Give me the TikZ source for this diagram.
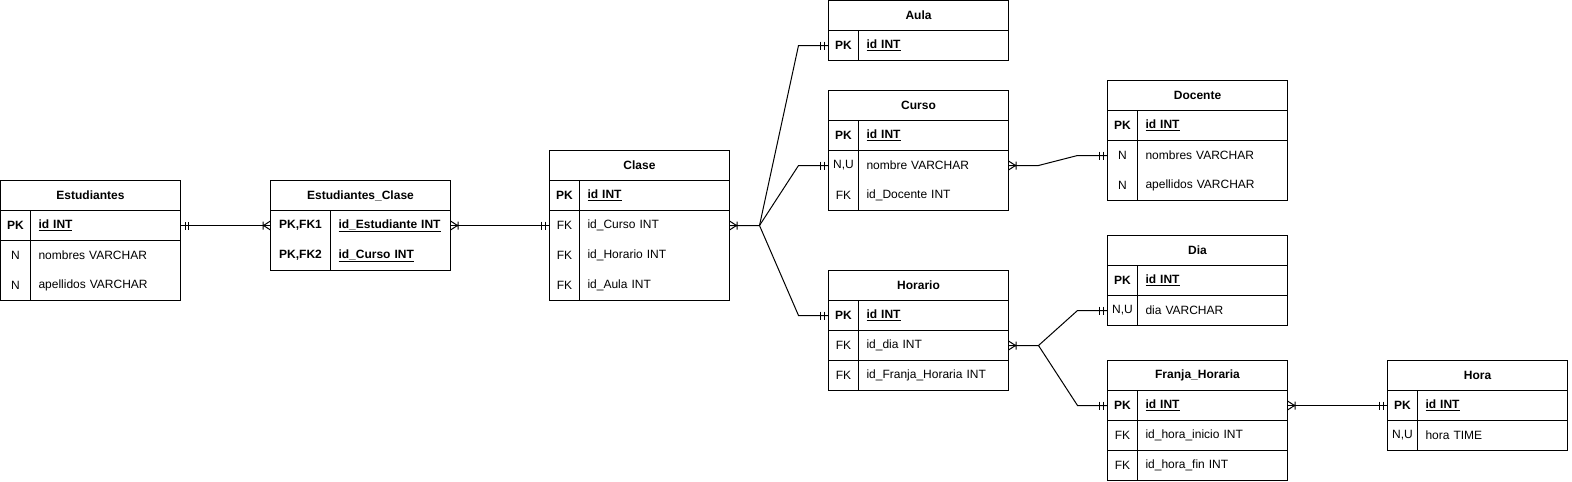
\documentclass[tikz,border=0pt]{standalone}
\usepackage{fontspec}
\setmainfont{Liberation Sans}
\usetikzlibrary{calc}

\tikzset{
    mone/.pic={\draw (-4.5,-4) -- (-4.5,4) (-8,-4) -- (-8,4);},
    many/.pic={\draw (0,-4.5) -- (-7,0) -- (0,4.5) (-7.5,-4) -- (-7.5,4);}
}

\begin{document}
\begin{tikzpicture}[x=1pt, y=-1pt, line width=1pt, font=\fontsize{12}{14}\selectfont,
        hdr/.style={draw, minimum width=180pt, minimum height=30pt, inner sep=0pt, outer sep=0pt, anchor=north west, font=\fontsize{12}{14}\selectfont\bfseries},
        key/.style={minimum width=30pt, minimum height=30pt, inner sep=0pt, outer sep=0pt, anchor=north west},
        fld/.style={minimum height=30pt, text width=134pt, inner xsep=8pt, inner ysep=0pt, outer sep=0pt, anchor=west, align=left}]
    % the frame
    \useasboundingbox (-0.5,-0.5) rectangle (1571.5,481.5);

    % Estudiantes
    \node[hdr] (est) at (0,180) {Estudiantes};
    \foreach \k/\f [count=\i] in {\textbf{PK}/\textbf{\underline{id INT}}, N/nombres VARCHAR, N/apellidos VARCHAR} {
        \node[key] (est-k\i) at ($(est.south west)+(0,{(\i-1)*30})$) {\k};
        \node[fld] (est-f\i) at (est-k\i.east) {\f};
    };
    \draw (est.south west) rectangle (est-f3.south east);
    \draw (est-k1.south west) -- (est-f1.south east);
    \draw (est-k1.north east) -- (est-k3.south east);

    % Estudiantes_Clase
    \node[hdr] (ec) at (270,180) {Estudiantes\_Clase};
    \foreach \k/\f [count=\i] in {{PK,FK1}/{id\_Estudiante INT}, {PK,FK2}/{id\_Curso INT}} {
        \node[key, minimum width=60pt, font=\fontsize{12}{14}\selectfont\bfseries] (ec-k\i) at ($(ec.south west)+(0,{(\i-1)*30})$) {\k};
        \node[fld, text width=104pt, font=\fontsize{12}{14}\selectfont\bfseries] (ec-f\i) at (ec-k\i.east) {\underline{\f}};
    };
    \draw (ec.south west) rectangle (ec-f2.south east);
    \draw (ec-k1.north east) -- (ec-k2.south east);

    % Clase
    \node[hdr] (cls) at (549,150) {Clase};
    \foreach \k/\f [count=\i] in {\textbf{PK}/\textbf{\underline{id INT}}, FK/id\_Curso INT, FK/id\_Horario INT, FK/id\_Aula INT} {
        \node[key] (cls-k\i) at ($(cls.south west)+(0,{(\i-1)*30})$) {\k};
        \node[fld] (cls-f\i) at (cls-k\i.east) {\f};
    };
    \draw (cls.south west) rectangle (cls-f4.south east);
    \draw (cls-k1.south west) -- (cls-f1.south east);
    \draw (cls-k1.north east) -- (cls-k4.south east);

    % Aula
    \node[hdr] (aula) at (828,0) {Aula};
    \node[key] (aula-k1) at (aula.south west) {\textbf{PK}};
    \node[fld] (aula-f1) at (aula-k1.east) {\textbf{\underline{id INT}}};
    \draw (aula.south west) rectangle (aula-f1.south east);
    \draw (aula-k1.north east) -- (aula-k1.south east);

    % Curso
    \node[hdr] (cur) at (828,90) {Curso};
    \foreach \k/\f [count=\i] in {\textbf{PK}/\textbf{\underline{id INT}}, {N,U}/nombre VARCHAR, FK/id\_Docente INT} {
        \node[key] (cur-k\i) at ($(cur.south west)+(0,{(\i-1)*30})$) {\k};
        \node[fld] (cur-f\i) at (cur-k\i.east) {\f};
    };
    \draw (cur.south west) rectangle (cur-f3.south east);
    \draw (cur-k1.south west) -- (cur-f1.south east);
    \draw (cur-k1.north east) -- (cur-k3.south east);

    % Docente
    \node[hdr] (doc) at (1107,80) {Docente};
    \foreach \k/\f [count=\i] in {\textbf{PK}/\textbf{\underline{id INT}}, N/nombres VARCHAR, N/apellidos VARCHAR} {
        \node[key] (doc-k\i) at ($(doc.south west)+(0,{(\i-1)*30})$) {\k};
        \node[fld] (doc-f\i) at (doc-k\i.east) {\f};
    };
    \draw (doc.south west) rectangle (doc-f3.south east);
    \draw (doc-k1.south west) -- (doc-f1.south east);
    \draw (doc-k1.north east) -- (doc-k3.south east);

    % Dia
    \node[hdr] (dia) at (1107,235) {Dia};
    \foreach \k/\f [count=\i] in {\textbf{PK}/\textbf{\underline{id INT}}, {N,U}/dia VARCHAR} {
        \node[key] (dia-k\i) at ($(dia.south west)+(0,{(\i-1)*30})$) {\k};
        \node[fld] (dia-f\i) at (dia-k\i.east) {\f};
    };
    \draw (dia.south west) rectangle (dia-f2.south east);
    \draw (dia-k1.south west) -- (dia-f1.south east);
    \draw (dia-k1.north east) -- (dia-k2.south east);

    % Horario
    \node[hdr] (hor) at (828,270) {Horario};
    \foreach \k/\f [count=\i] in {\textbf{PK}/\textbf{\underline{id INT}}, FK/id\_dia INT, FK/id\_Franja\_Horaria INT} {
        \node[key] (hor-k\i) at ($(hor.south west)+(0,{(\i-1)*30})$) {\k};
        \node[fld] (hor-f\i) at (hor-k\i.east) {\f};
    };
    \draw (hor.south west) rectangle (hor-f3.south east);
    \foreach \i in {1,2} {
        \draw (hor-k\i.south west) -- (hor-f\i.south east);
    };
    \draw (hor-k1.north east) -- (hor-k3.south east);

    % Franja_Horaria
    \node[hdr] (fh) at (1107,360) {Franja\_Horaria};
    \foreach \k/\f [count=\i] in {\textbf{PK}/\textbf{\underline{id INT}}, FK/id\_hora\_inicio INT, FK/id\_hora\_fin INT} {
        \node[key] (fh-k\i) at ($(fh.south west)+(0,{(\i-1)*30})$) {\k};
        \node[fld] (fh-f\i) at (fh-k\i.east) {\f};
    };
    \draw (fh.south west) rectangle (fh-f3.south east);
    \foreach \i in {1,2} {
        \draw (fh-k\i.south west) -- (fh-f\i.south east);
    };
    \draw (fh-k1.north east) -- (fh-k3.south east);

    % Hora
    \node[hdr] (hora) at (1387,360) {Hora};
    \foreach \k/\f [count=\i] in {\textbf{PK}/\textbf{\underline{id INT}}, {N,U}/hora TIME} {
        \node[key] (hora-k\i) at ($(hora.south west)+(0,{(\i-1)*30})$) {\k};
        \node[fld] (hora-f\i) at (hora-k\i.east) {\f};
    };
    \draw (hora.south west) rectangle (hora-f2.south east);
    \draw (hora-k1.south west) -- (hora-f1.south east);
    \draw (hora-k1.north east) -- (hora-k2.south east);

    % relations
    \coordinate (cj) at ($(cls-f2.east)+(30,0)$);
    \coordinate (hj) at ($(hor-f2.east)+(30,0)$);

    \draw (est-f1.east) -- (ec-k1.west);
    \draw (ec-f1.east) -- (cls-k2.west);
    \draw (cls-f2.east) -- (cj) -- ([xshift=-30pt]aula-k1.west) -- (aula-k1.west);
    \draw (cj) -- ([xshift=-30pt]cur-k2.west) -- (cur-k2.west);
    \draw (cj) -- ([xshift=-30pt]hor-k1.west) -- (hor-k1.west);
    \draw (cur-f2.east) -- ++(30,0) -- ([xshift=-30pt]doc-k2.west) -- (doc-k2.west);
    \draw (hor-f2.east) -- (hj) -- ([xshift=-30pt]dia-k2.west) -- (dia-k2.west);
    \draw (hj) -- ([xshift=-30pt]fh-k1.west) -- (fh-k1.west);
    \draw (fh-f1.east) -- (hora-k1.west);

    % ends
    \pic[rotate=180] at (est-f1.east) {mone};
    \pic at (ec-k1.west) {many};
    \pic[rotate=180] at (ec-f1.east) {many};
    \pic at (cls-k2.west) {mone};
    \pic[rotate=180] at (cls-f2.east) {many};
    \pic at (aula-k1.west) {mone};
    \pic at (cur-k2.west) {mone};
    \pic at (hor-k1.west) {mone};
    \pic[rotate=180] at (cur-f2.east) {many};
    \pic at (doc-k2.west) {mone};
    \pic[rotate=180] at (hor-f2.east) {many};
    \pic at (dia-k2.west) {mone};
    \pic at (fh-k1.west) {mone};
    \pic[rotate=180] at (fh-f1.east) {many};
    \pic at (hora-k1.west) {mone};
\end{tikzpicture}
\end{document}
